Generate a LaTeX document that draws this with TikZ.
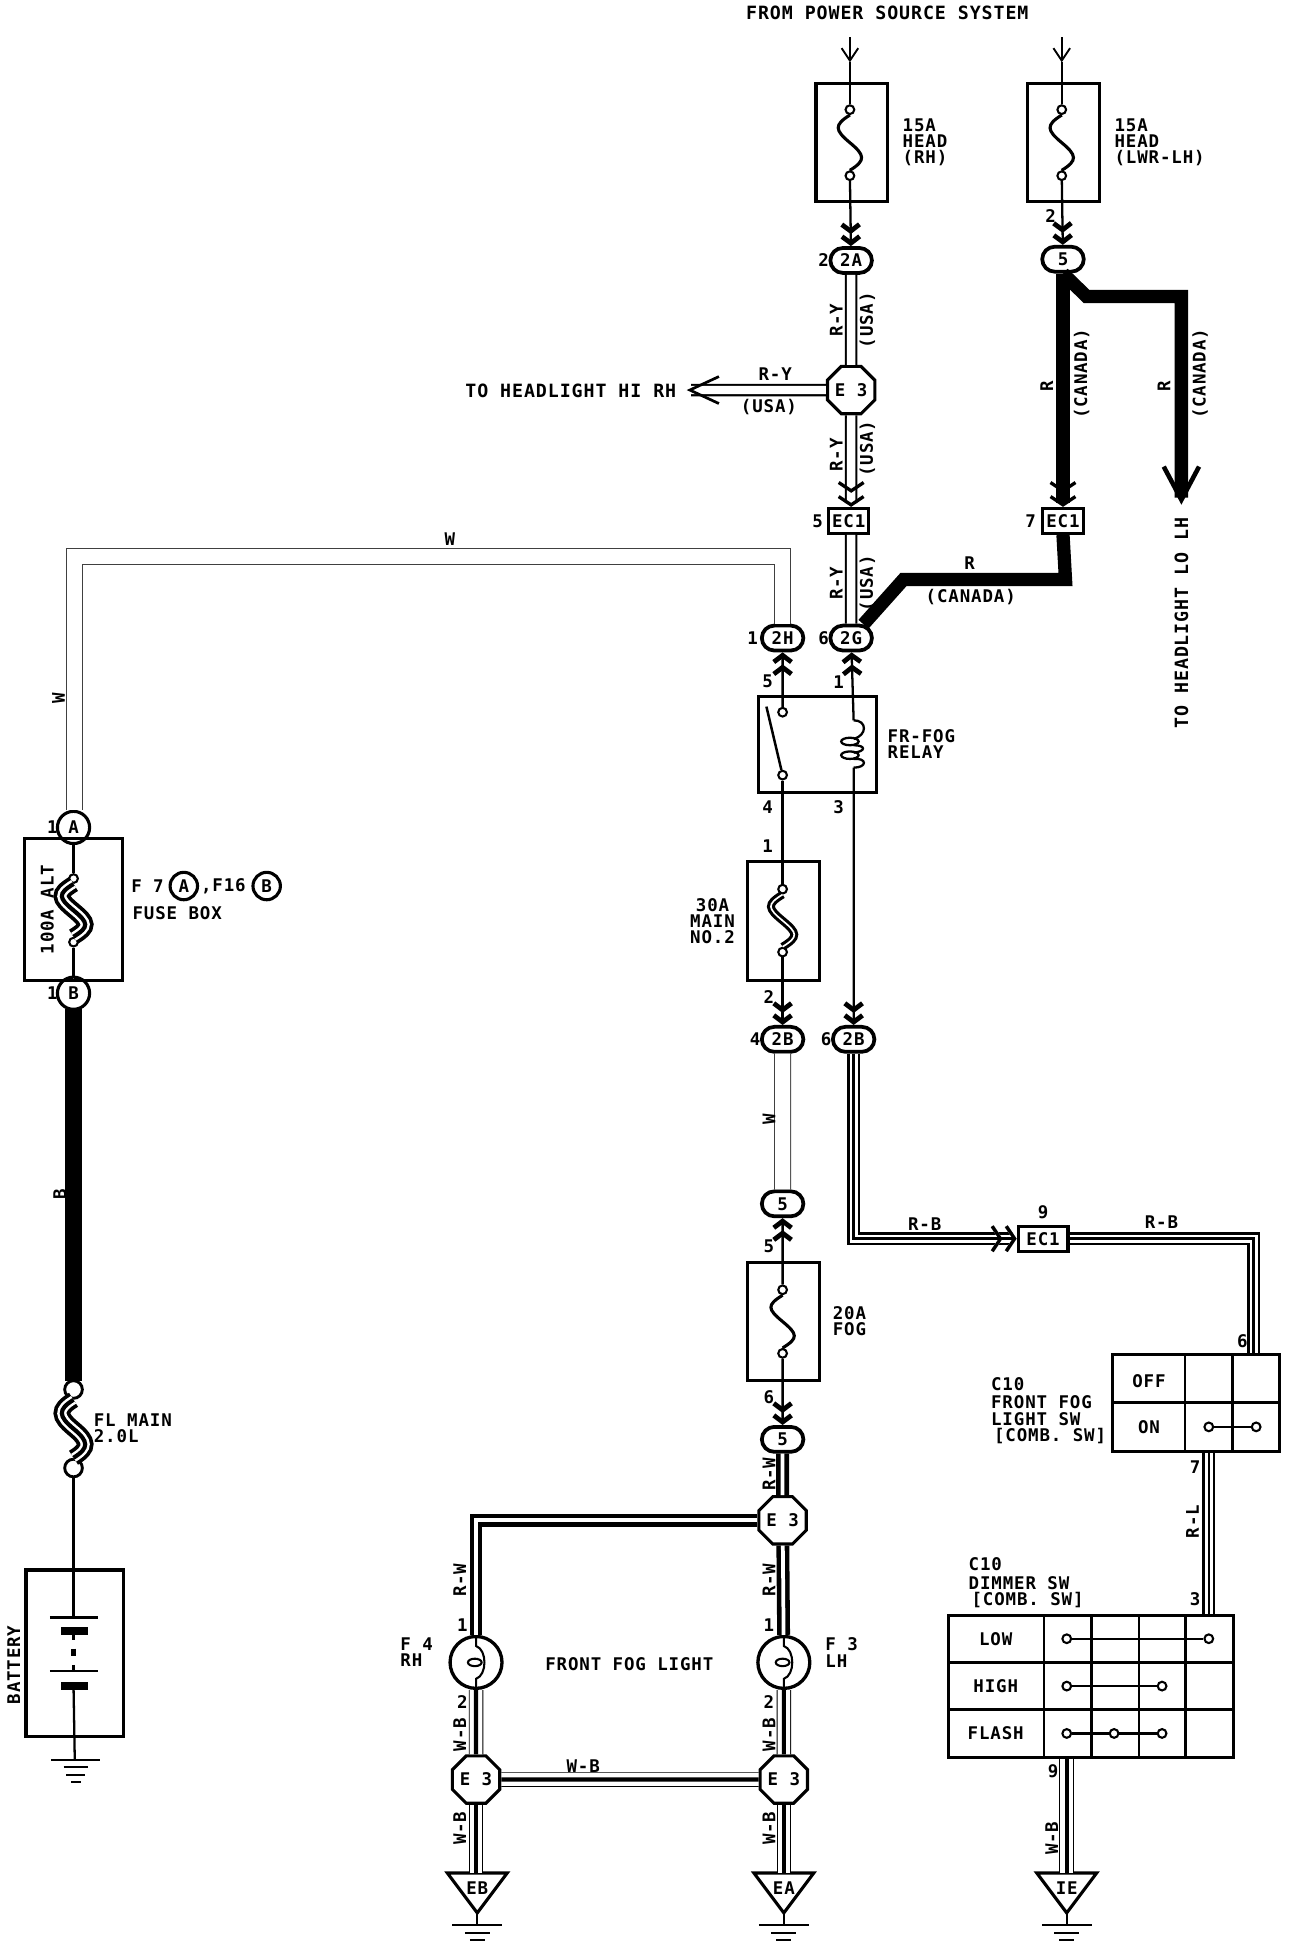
\documentclass[tikz,border=0pt]{standalone}
\usepackage{fontspec}
\setmonofont[LetterSpace=5]{DejaVu Sans Mono}
\usetikzlibrary{arrows.meta,shapes.geometric,shapes.misc,calc}
\newcommand{\wfont}{\fontsize{8.4}{7.8}\selectfont\ttfamily\bfseries}
\newcommand{\wfontb}{\fontsize{8.8}{7.8}\selectfont\ttfamily\bfseries}
\tikzset{%
  fusebox/.style  = {rectangle, draw, line width=1.5pt, minimum width=34.5pt, minimum height=57pt},%
  plug/.style     = {rounded rectangle, draw, line width=1.8pt, fill=white, minimum width=20pt, minimum height=12pt},%
  ecbox/.style    = {rectangle, draw, line width=1.5pt, fill=white, minimum width=19.5pt, minimum height=12pt},%
  pinring/.style  = {circle, draw, line width=1.5pt, fill=white, minimum size=15.5pt},%
  splice/.style   = {regular polygon, regular polygon sides=8, draw, line width=1.5pt, fill=white, minimum size=24.7pt},%
  lamp/.style     = {circle, draw, line width=1.6pt, fill=white, minimum size=25pt},%
  term/.style     = {circle, draw, line width=1pt, fill=white, minimum size=4.2pt},%
  termbig/.style  = {circle, draw, line width=1.4pt, fill=white, minimum size=8.5pt},%
  threeline/.style n args = {3}{line width=#3, preaction={draw,line width=#1}, preaction={draw,white,line width=#2}},%
  wirethin/.style = {line width=1.1pt},%
  wirery/.style   = {line width=1pt, double, double distance=4pt},%
  wirew/.style    = {line width=0.5pt, black!75, double, double distance=7.2pt},%
  wirer/.style    = {line width=6.4pt},%
  wireb/.style    = {line width=8.4pt, shorten >=-1pt, shorten <=-1pt},%
  wirerw/.style   = {line width=2.2pt, double, double distance=1.8pt},%
  wirewb/.style   = {threeline={7pt}{6.1pt}{2pt}},%
  wirerb/.style   = {threeline={6.2pt}{3.8pt}{1.2pt}},%
  fuseline/.style = {line width=1.5pt},%
  fusedbl/.style  = {line width=1.5pt, double, double distance=0.8pt},%
  fusewide/.style = {threeline={8pt}{4.4pt}{2pt}},%
  chev/.style     = {-{Straight Barb[length=3.2pt,width=8.5pt,line width=2.3pt]Straight Barb[length=3.2pt,width=8.5pt,line width=2.3pt]}},%
  chevopen/.style = {-{Straight Barb[length=4pt,width=12pt,line width=1.6pt,sep=1pt]Straight Barb[length=4pt,width=12pt,line width=1.6pt]}},%
  tipin/.style    = {line width=0.9pt, -{Straight Barb[length=6pt,width=8pt,line width=0.9pt]}}%
}
\newcommand{\fusesym}[6]{%
  \node [#5] (#1-t) at (#2,#3) {};
  \node [#5] (#1-b) at (#2,#4) {};
  \coordinate (#1-m) at ($(#1-t)!0.5!(#1-b)$);
  \draw [#6] (#1-t.south) .. controls +(-13,8) and +(-12,-10) .. (#1-m) .. controls +(12,10) and +(13,-8) .. (#1-b.north);
}
\newcommand{\bulbsym}[3]{%
  \node [lamp] (#1) at (#2,#3) {};
  \draw [line width=1pt] (#1.north) -- ++(0,9) .. controls +(9,3) and +(9,-3) .. ($(#1.south)+(0,-9)$) -- (#1.south);
  \draw [line width=1pt] (#2-1,#3) ellipse (5.5 and 3);
}
\newcommand{\groundtri}[3]{%
  \coordinate (#1-top) at (#2,1503);
  \coordinate (#1-tip) at (#2,1535);
  \draw [line width=1.5pt] (#2-24,1503) -- (#2+24,1503) -- (#1-tip) -- cycle;
  \node (#1-lb) at (#2,1515) {#3};
  \coordinate (#1-g) at (#2,1545);
  \draw [line width=1pt] (#1-tip) -- (#1-g);
  \draw [line width=1pt] (#2-20,1545) -- (#2+20,1545);
  \draw [line width=1pt] (#2-10,1551) -- (#2+10,1551);
  \draw [line width=1pt] (#2-6,1557) -- (#2+6,1557);
}
\begin{document}
\begin{tikzpicture}[x=0.6pt,y=-0.6pt,
	every node/.style = {font=\wfont,inner sep=0pt}]
	\useasboundingbox (0,0) rectangle (1040,1569.6);
	\node [font=\wfontb] (lbSrc) at (712,10) {FROM POWER SOURCE SYSTEM};
	% head fuses
	\coordinate (srcA) at (682,30);
	\coordinate (srcB) at (852,30);
	\coordinate (inA) at (682,50);
	\coordinate (inB) at (852,50);
	\node [fusebox] (fuseA) at (683.5,114.5) {};
	\node [fusebox] (fuseB) at (853.5,114.5) {};
	\fusesym{fA}{682}{88}{141}{term}{fuseline}
	\fusesym{fB}{852}{88}{141}{term}{fuseline}
	\draw [tipin] (srcA) -- (inA);
	\draw [tipin] (srcB) -- (inB);
	\draw [wirethin] (inA) -- (fA-t);
	\draw [wirethin] (inB) -- (fB-t);
	\node [anchor=west,align=left] (lbFA) at (724,114) {15A\\HEAD\\(RH)};
	\node [anchor=west,align=left] (lbFB) at (894,114) {15A\\HEAD\\(LWR-LH)};
	\node (n2b) at (843,173) {2};
	% connectors
	\node [plug] (c2A) at (683,209) {2A};
	\node [plug] (c5A) at (853,208) {5};
	\node (n2a) at (661,209) {2};
	\node [splice] (spA) at (683,313) {E 3};
	\node [ecbox] (ecA) at (681,418) {EC1};
	\node [ecbox] (ecB) at (853,418) {EC1};
	\node (n5a) at (656,418) {5};
	\node (n7a) at (827,418) {7};
	\node [plug] (c2G) at (683,512) {2G};
	\node [plug] (c2H) at (628,512) {2H};
	\node (n6a) at (661,512) {6};
	\node (n1a) at (604,512) {1};
	\draw [wirethin,chev] (fA-b) -- (c2A);
	\draw [wirethin,chev] (fB-b) -- (c5A);
	\draw [wirery] (c2A) -- (spA);
	\draw [wirery,chevopen] (spA) -- (ecA.north -| spA);
	\draw [wirery] (ecA.south -| spA) -- (c2G);
	\coordinate (hiEnd) at (551,313);
	\draw [wirery,-{Straight Barb[length=14pt,width=13pt,line width=1.3pt]}] (spA) -- (hiEnd);
	\node [anchor=east,font=\wfontb] (lbHi) at (543,314) {TO HEADLIGHT HI RH};
	\node (lbRYh) at (622,300) {R-Y};
	\node (lbUSh) at (617,327) {(USA)};
	\node [rotate=90] (lbRY1) at (671,257) {R-Y};
	\node [rotate=90] (lbUS1) at (696,257) {(USA)};
	\node [rotate=90] (lbRY2) at (671,365) {R-Y};
	\node [rotate=90] (lbUS2) at (696,360) {(USA)};
	\node [rotate=90] (lbRY3) at (671,468) {R-Y};
	\node [rotate=90] (lbUS3) at (696,468) {(USA)};
	% canada feed
	\coordinate (kneeA) at (872,238);
	\coordinate (kneeB) at (948,238);
	\coordinate (loEnd) at (948,405);
	\coordinate (kneeC) at (855,465);
	\coordinate (kneeD) at (725,465);
	\draw [wirer,-{Straight Barb[length=16pt,width=17pt,line width=2.2pt]}] (c5A.south) -- (kneeA) -- (kneeB) -- (loEnd);
	\draw [wirer,chevopen] (c5A.south) -- (ecB.north);
	\draw [wirer] (ecB.south) -- (kneeC) -- (kneeD) -- (c2G);
	\node [rotate=90] (lbR1) at (840,310) {R};
	\node [rotate=90] (lbCa1) at (868,300) {(CANADA)};
	\node [rotate=90] (lbR2) at (934,310) {R};
	\node [rotate=90] (lbCa2) at (963,300) {(CANADA)};
	\node (lbR3) at (778,452) {R};
	\node (lbCa3) at (779,479) {(CANADA)};
	\node [rotate=90,font=\wfontb] (lbLo) at (948,500) {TO HEADLIGHT LO LH};
	% alternator feed
	\node [pinring] (pinA) at (59,664) {A};
	\node [pinring] (pinB) at (59,797) {B};
	\node (n1c) at (42,664) {1};
	\node (n1d) at (42,797) {1};
	\coordinate (kneeE) at (628,446.5);
	\coordinate (kneeF) at (59.5,446.5);
	\draw [wirew] (c2H.north) -- (kneeE) -- (kneeF) -- (pinA.north -| kneeF);
	\node (lbW1) at (361,433) {W};
	\node [rotate=90] (lbW2) at (47,560) {W};
	\node [rectangle,draw,line width=1.5pt,minimum width=46.8pt,minimum height=68.4pt] (fuseC) at (59,730) {};
	\fusesym{fC}{59}{705}{756}{term}{fusewide}
	\draw [wirethin] (pinA) -- (fC-t);
	\draw [wirethin] (fC-b) -- (pinB);
	\node [rotate=90] (lbAlt) at (38,730) {100A ALT};
	\node [anchor=west] (lbF7) at (105,711) {F 7};
	\node [pinring,minimum size=13.2pt] (pinC) at (147.5,711) {A};
	\node [anchor=west] (lbF16) at (161,711) {,F16};
	\node [pinring,minimum size=13.2pt] (pinD) at (214,711) {B};
	\node [anchor=west] (lbBox) at (106,733) {FUSE BOX};
	% battery
	\fusesym{fL}{59}{1115}{1178}{termbig}{fusewide}
	\draw [wireb] (pinB) -- (fL-t);
	\node [rotate=90] (lbB) at (48,958) {B};
	\node [anchor=west,align=left] (lbFL) at (75,1146) {FL MAIN\\2.0L};
	\node [rectangle,draw,line width=1.5pt,minimum width=47pt,minimum height=80pt] (batt) at (60,1326.5) {};
	\draw [wirethin] (fL-b) -- (batt.north -| fL-b);
	\node [rotate=90] (lbBatt) at (11,1336) {BATTERY};
	\coordinate (plA) at (59,1298);
	\coordinate (plB) at (59,1353);
	\draw [wirethin] (batt.north -| plA) -- (plA);
	\draw [line width=1.1pt] (40,1298) -- (79,1298);
	\draw [line width=4pt] (49,1309) -- (71,1309);
	\draw [wirethin] (plA |- 0,1309) -- (plA |- 0,1316);
	\draw [line width=2pt] (plA |- 0,1323) -- (plA |- 0,1329);
	\draw [wirethin] (plA |- 0,1336) -- (plA |- 0,1341);
	\draw [line width=1.1pt] (40,1341) -- (79,1341);
	\draw [line width=4pt] (49,1353) -- (71,1353);
	\coordinate (gdA) at (60,1412);
	\draw [wirethin] (plB) -- (gdA);
	\draw [line width=0.9pt] (41,1412) -- (80,1412);
	\draw [line width=0.9pt] (51,1418) -- (71,1418);
	\draw [line width=0.9pt] (53,1424) -- (68,1424);
	\draw [line width=0.9pt] (57,1430) -- (65,1430);
	% relay
	\node [rectangle,draw,line width=1.5pt,minimum width=57pt,minimum height=46.5pt] (relay) at (656,597.5) {};
	\node [term] (rlT) at (628,571.5) {};
	\node [term] (rlB) at (628,622) {};
	\coordinate (blade) at (615,567);
	\draw [line width=1.2pt] (blade) -- (rlB);
	\draw [wirethin,chev] (rlT) -- (c2H);
	\coordinate (coilT) at (685,578);
	\coordinate (coilB) at (685,616);
	\draw [wirethin,chev] (coilT) -- (c2G);
	\draw [line width=1.1pt] (coilT) .. controls +(11,0) and +(11,-3) .. (685,593);
	\draw [line width=1.1pt] (685,598) .. controls +(10,0) and +(10,-1) .. (685,604);
	\draw [line width=1.1pt] (685,609) .. controls +(11,-1) and +(11,0) .. (coilB);
	\draw [line width=1.1pt] (682,595) ellipse (7 and 3);
	\draw [line width=1.1pt] (682,606) ellipse (7 and 3);
	\node (n5c) at (616,547) {5};
	\node (n1e) at (673,547) {1};
	\node (n4a) at (616,648) {4};
	\node (n3a) at (673,648) {3};
	\node (n1f) at (616,679) {1};
	\node [anchor=west,align=left] (lbRelay) at (712,597) {FR-FOG\\RELAY};
	% main fuse and fog fuse
	\node [fusebox] (fuseD) at (628.5,739) {};
	\fusesym{fD}{628}{713.5}{764}{term}{fusedbl}
	\draw [wirethin] (rlB) -- (fD-t);
	\node [anchor=east,align=center] (lbFD) at (590,739) {30A\\MAIN\\NO.2};
	\node (n2c) at (617,800) {2};
	\node [plug] (c2B) at (628,834) {2B};
	\node [plug] (c2C) at (685,834) {2B};
	\node (n4b) at (606,834) {4};
	\node (n6b) at (663,834) {6};
	\draw [wirethin,chev] (fD-b) -- (c2B);
	\draw [wirethin,chev] (coilB) -- (c2C);
	\node [plug] (c5B) at (628,966) {5};
	\draw [wirew] (c2B) -- (c5B);
	\node [rotate=90] (lbW3) at (617,898) {W};
	\node [fusebox] (fuseE) at (628.5,1060.5) {};
	\fusesym{fE}{628}{1035}{1086}{term}{fuseline}
	\draw [wirethin,chev] (fE-t) -- (c5B);
	\node (n5d) at (617,1000) {5};
	\node (n6c) at (617,1121) {6};
	\node [anchor=west,align=left] (lbFE) at (668,1060) {20A\\FOG};
	\node [plug] (c5C) at (628,1155) {5};
	\draw [wirethin,chev] (fE-b) -- (c5C);
	% fog lights
	\node [splice] (spB) at (628,1220) {E 3};
	\bulbsym{lpR}{382}{1334}
	\bulbsym{lpL}{629}{1334}
	\node [splice] (spR) at (382,1428) {E 3};
	\node [splice] (spL) at (629,1428) {E 3};
	\draw [wirerw] (c5C) -- (spB);
	\draw [wirerw] (spB) -| (lpR);
	\draw [wirerw] (spB) -- (lpL);
	\draw [wirewb] (lpR) -- (spR);
	\draw [wirewb] (lpL) -- (spL);
	\draw [wirewb] (spR) -- (spL);
	\groundtri{gdR}{383}{EB}
	\groundtri{gdL}{629}{EA}
	\groundtri{gdD}{856}{IE}
	\draw [wirewb] (spR) -- (spR |- gdR-top);
	\draw [wirewb] (spL) -- (gdL-top);
	\node [rotate=90] (lbRW1) at (617,1183) {R-W};
	\node [rotate=90] (lbRW2) at (617,1268) {R-W};
	\node [rotate=90] (lbRW3) at (369,1268) {R-W};
	\node (n1g) at (371,1304) {1};
	\node (n1h) at (617,1304) {1};
	\node (n2d) at (371,1366) {2};
	\node (n2e) at (617,1366) {2};
	\node [rotate=90] (lbWB1) at (369,1392) {W-B};
	\node [rotate=90] (lbWB2) at (617,1392) {W-B};
	\node [rotate=90] (lbWB3) at (369,1467) {W-B};
	\node [rotate=90] (lbWB4) at (617,1467) {W-B};
	\node (lbWB5) at (468,1417) {W-B};
	\node [anchor=west,align=left] (lbF4) at (321,1326) {F 4\\RH};
	\node [anchor=west,align=left] (lbF3) at (662,1326) {F 3\\LH};
	\node (lbFog) at (505,1335) {FRONT FOG LIGHT};
	% switches
	\node [ecbox,minimum width=24pt] (ecC) at (837,994) {EC1};
	\node (n9a) at (837,973) {9};
	\draw [wirerb,chevopen] (c2C) |- (ecC);
	\coordinate (kneeG) at (1006,994);
	\node [rectangle,draw,line width=1.5pt,minimum width=80.4pt,minimum height=46.8pt] (swFog) at (960,1126) {};
	\draw [wirerb] (ecC) -- (kneeG) -- (swFog.north -| kneeG);
	\node (lbRB1) at (742,982) {R-B};
	\node (lbRB2) at (932,981) {R-B};
	\node (n6d) at (997,1076) {6};
	\draw [line width=1.3pt] (893,1125.5) -- (1027,1125.5);
	\draw [line width=1.1pt] (951,1087) -- (951,1165);
	\draw [line width=1.1pt] (989,1087) -- (989,1165);
	\node (lbOff) at (922,1108) {OFF};
	\node (lbOn) at (922,1145) {ON};
	\node [term] (ctA) at (970,1145) {};
	\node [term] (ctB) at (1008,1145) {};
	\draw [wirethin] (ctA) -- (ctB);
	\node [anchor=west,align=left] (lbSwF) at (795,1132) {C10\\[1pt]FRONT FOG\\LIGHT SW\\\,[COMB. SW]};
	\node [rectangle,draw,line width=1.5pt,minimum width=137.4pt,minimum height=68.4pt] (swDim) at (875.5,1353) {};
	\draw [wirerb] (swFog.south -| ctA) -- (swDim.north -| ctA);
	\node (n7b) at (959,1177) {7};
	\node (n3b) at (959,1283) {3};
	\node [rotate=90] (lbRL) at (957,1221) {R-L};
	\node [anchor=west,align=left] (lbSwD) at (777,1270) {C10\\[1pt]DIMMER SW\\\,[COMB. SW]};
	\draw [line width=1.3pt] (761,1334) -- (990,1334);
	\draw [line width=1.3pt] (761,1372) -- (990,1372);
	\draw [line width=1.1pt] (838,1296) -- (838,1410);
	\foreach \colx in {876,914,951.5}
		\draw [line width=1.3pt] (\colx,1296) -- (\colx,1410);
	\node (lbLow) at (799,1315) {LOW};
	\node (lbHigh) at (799,1353) {HIGH};
	\node (lbFlash) at (799,1391) {FLASH};
	\node [term] (dmA) at (856,1315) {};
	\node [term] (dmB) at (970,1315) {};
	\node [term] (dmC) at (856,1353) {};
	\node [term] (dmD) at (932.5,1353) {};
	\node [term] (dmE) at (856,1391) {};
	\node [term] (dmF) at (894,1391) {};
	\node [term] (dmG) at (932.5,1391) {};
	\draw [wirethin] (dmA) -- (dmB);
	\draw [wirethin] (dmC) -- (dmD);
	\draw [wirethin] (dmE) -- (dmF);
	\draw [wirethin] (dmF) -- (dmG);
	\draw [wirewb] (swDim.south -| dmA) -- (gdD-top);
	\node (n9b) at (845,1421) {9};
	\node [rotate=90] (lbWB6) at (844,1475) {W-B};
\end{tikzpicture}
\end{document}
